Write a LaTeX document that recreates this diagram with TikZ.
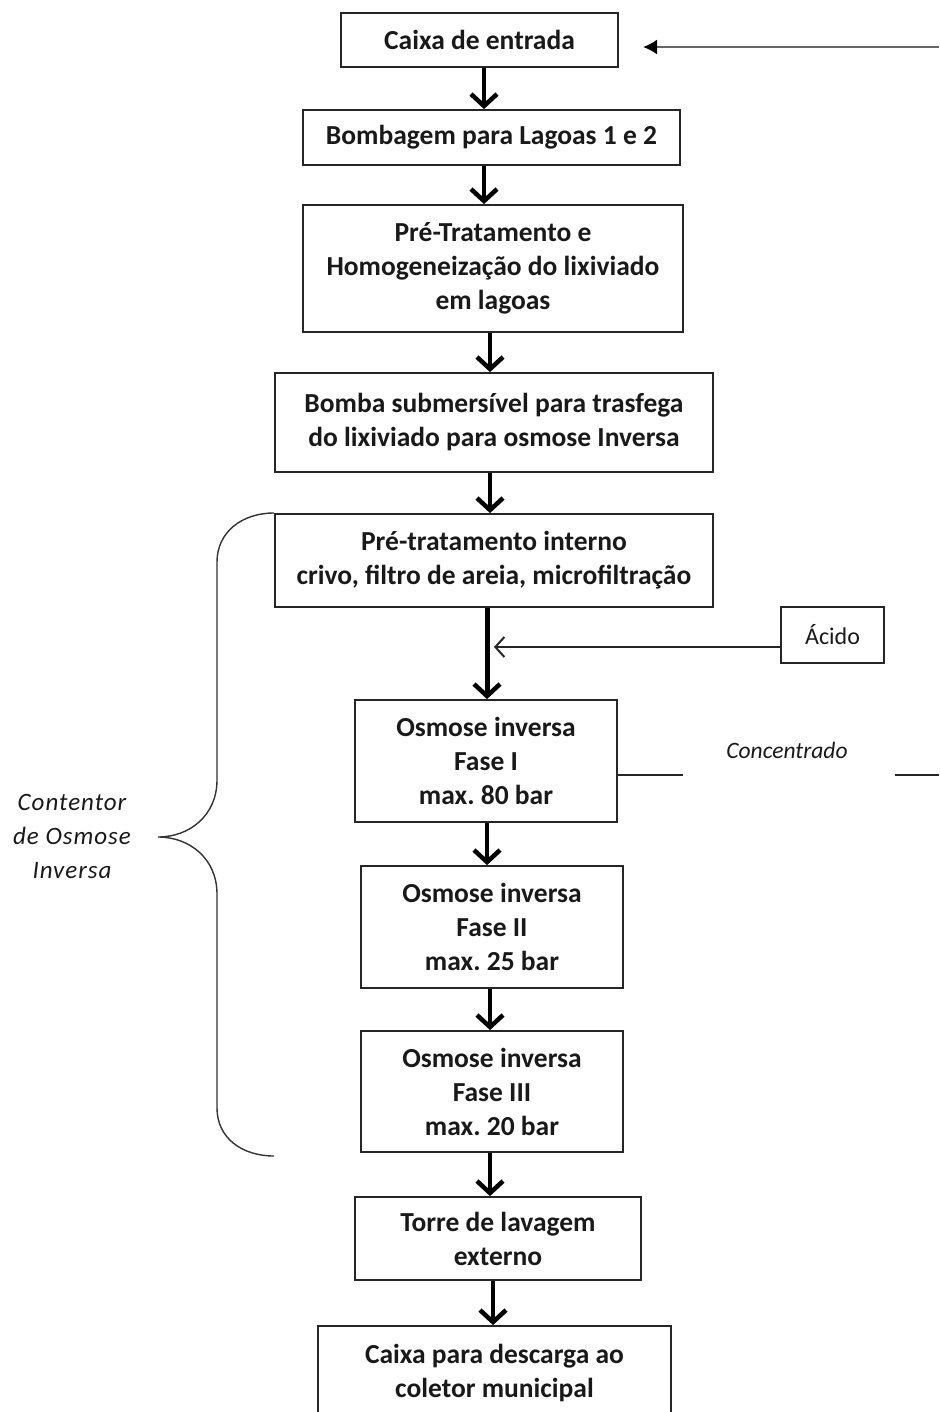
\documentclass[tikz,border=0pt]{standalone}
\usepackage{fontspec}
\setmainfont{Carlito}
\usetikzlibrary{arrows.meta}
\frenchspacing
\begin{document}
\begin{tikzpicture}[x=1pt,y=-1pt,
  box/.style={draw=black!85, line width=1.8pt, inner sep=0pt, align=center,
    font=\fontsize{27.5}{34}\selectfont\bfseries, text=black!90},
  flow/.style={line width=4pt, -{Straight Barb[length=12pt,width=26pt,line width=4.5pt]}},
  thinline/.style={line width=1.6pt, draw=black!85},
  note/.style={font=\fontsize{23}{34}\selectfont\itshape, text=black!90, align=center, inner sep=0pt}]
\useasboundingbox (0,0) rectangle (939,1412);
\begin{scope}
\clip (0,0) rectangle (939,1412);
\node[box, minimum width=277pt, minimum height=54pt] (b1) at (479.5,40) {Caixa de entrada};
\node[box, minimum width=377pt, minimum height=55pt] (b2) at (491.5,137.5) {Bombagem para Lagoas 1 e 2};
\node[box, minimum width=380pt, minimum height=127pt] (b3) at (493,268.5) {Pré-Tratamento e\\Homogeneização do lixiviado\\em lagoas};
\node[box, minimum width=438pt, minimum height=99pt] (b4) at (494,422.5) {Bomba submersível para trasfega\\do lixiviado para osmose Inversa};
\node[box, minimum width=438pt, minimum height=93pt] (b5) at (494,560.5) {Pré-tratamento interno\\crivo, filtro de areia, microfiltração};
\node[box, minimum width=103pt, minimum height=56pt, font=\fontsize{24}{30}\selectfont] (acid) at (832.5,635) {Ácido};
\node[box, minimum width=262pt, minimum height=122pt] (b7) at (486,761) {Osmose inversa\\Fase I\\max. 80 bar};
\node[box, minimum width=262pt, minimum height=122pt] (b8) at (492,927) {Osmose inversa\\Fase II\\max. 25 bar};
\node[box, minimum width=262pt, minimum height=121pt] (b9) at (492,1091.5) {Osmose inversa\\Fase III\\max. 20 bar};
\node[box, minimum width=286pt, minimum height=83pt] (b10) at (498,1238.5) {Torre de lavagem\\externo};
\node[box, minimum width=353pt, minimum height=94pt] (b11) at (494.5,1373) {Caixa para descarga ao\\coletor municipal};
\end{scope}

% main flow arrows
\coordinate (x1) at (484,0);
\coordinate (x2) at (484,0);
\coordinate (x3) at (490,0);
\coordinate (x4) at (490,0);
\coordinate (x5) at (487,0);
\coordinate (x6) at (487,0);
\coordinate (x7) at (490,0);
\coordinate (x8) at (490,0);
\coordinate (x9) at (493,0);
\draw[flow] (b1.south -| x1) -- (b2.north -| x1);
\draw[flow] (b2.south -| x2) -- (b3.north -| x2);
\draw[flow] (b3.south -| x3) -- (b4.north -| x3);
\draw[flow] (b4.south -| x4) -- (b5.north -| x4);
\draw[flow, line width=5pt] (b5.south -| x5) -- (b7.north -| x5);
\draw[flow] (b7.south -| x6) -- (b8.north -| x6);
\draw[flow] (b8.south -| x7) -- (b9.north -| x7);
\draw[flow] (b9.south -| x8) -- (b10.north -| x8);
\draw[flow] (b10.south -| x9) -- (b11.north -| x9);

% inflow arrow at top right
\coordinate (inflow) at (939,47);
\coordinate (intip) at (643,47);
\draw[line width=2pt, draw=black!60, -{Latex[length=14pt,width=15pt,color=black]}] (inflow) -- (intip);

% acid arrow
\coordinate (acj) at (494,647);
\draw[thinline, -{Straight Barb[length=9pt,width=20pt,line width=2pt]}] (acid.west |- acj) -- (acj);

% concentrate line
\coordinate (c1) at (683,775);
\coordinate (c2) at (895,775);
\coordinate (c3) at (939,775);
\draw[thinline] (b7.east |- c1) -- (c1);
\node[note, font=\fontsize{23.5}{30}\selectfont\itshape] (conc) at (787,750) {Concentrado};
\draw[thinline] (c2) -- (c3);

% brace
\coordinate (btop) at (274,513);
\coordinate (btip) at (158,837);
\coordinate (bbot) at (274,1156);
\draw[line width=1.4pt, draw=black!80] (btop) .. controls (242,513) and (217,532) .. (217,562)
  -- (217,780) .. controls (217,815) and (190,837) .. (btip)
  .. controls (190,837) and (217,859) .. (217,894)
  -- (217,1108) .. controls (217,1138) and (242,1156) .. (bbot);
\node[note, font=\fontsize{25}{34}\selectfont\itshape] (cont) at (72,836) {\addfontfeatures{LetterSpace=4}Contentor\\\addfontfeatures{LetterSpace=4}de Osmose\\\addfontfeatures{LetterSpace=4}Inversa};
\end{tikzpicture}
\end{document}
